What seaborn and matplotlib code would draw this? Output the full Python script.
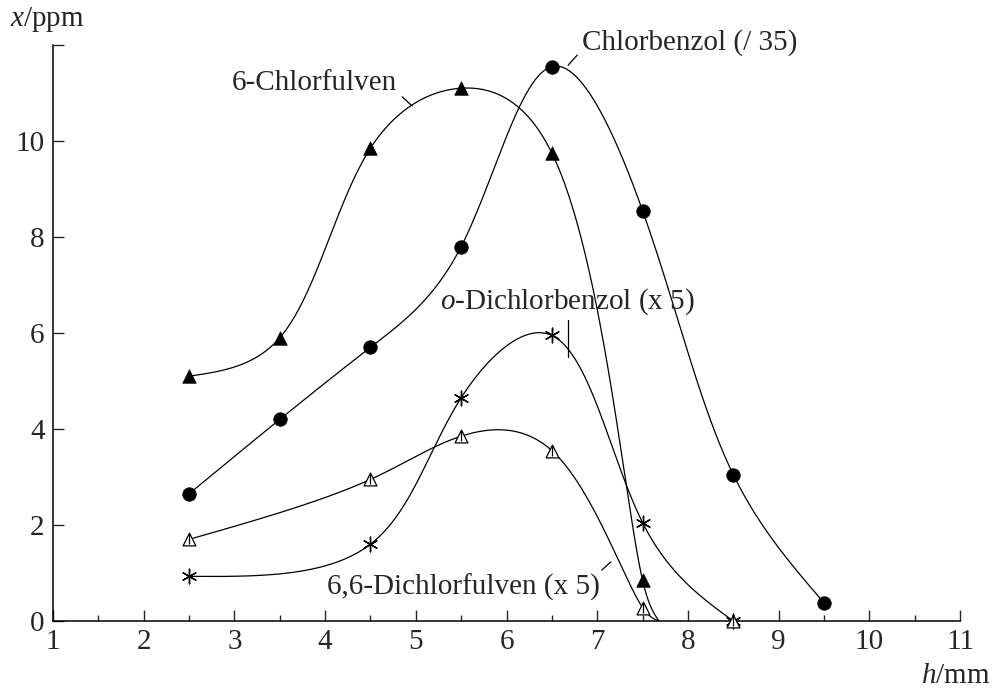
import numpy as np
import pandas as pd
import seaborn as sns
import matplotlib
matplotlib.use("Agg")
import matplotlib.pyplot as plt

# ---- data ----
h_chlorfulven = [2.5, 3.5, 4.5, 5.5, 6.5, 7.5]
x_chlorfulven = [5.1, 5.9, 9.85, 11.1, 9.75, 0.85]

h_chlorbenzol = [2.5, 3.5, 4.5, 5.5, 6.5, 7.5, 8.5, 9.5]
x_chlorbenzol = [2.65, 4.2, 5.7, 7.8, 11.55, 8.55, 3.05, 0.38]

h_odcb = [2.5, 4.5, 5.5, 6.5, 7.5, 8.5]
x_odcb = [0.93, 1.6, 4.65, 5.95, 2.05, 0.0]

h_dcf = [2.5, 4.5, 5.5, 6.5, 7.5, 8.5]
x_dcf = [1.7, 2.95, 3.85, 3.55, 0.28, 0.0]

# h at which a fitted curve reaches zero (None = curve ends at last point)
curve_zero_h = [7.68, None, None, 7.68]

series_names = ["6-Chlorfulven", "Chlorbenzol (/ 35)",
                "$o$-Dichlorbenzol (x 5)", "6,6-Dichlorfulven (x 5)"]
x_ticks = [1, 2, 3, 4, 5, 6, 7, 8, 9, 10, 11]
y_ticks = [0, 2, 4, 6, 8, 10, 12]
y_ticklabels = ["0", "2", "4", "6", "8", "10", ""]

# ---- style ----
sns.set_theme(style="ticks")
plt.rcParams["font.family"] = ["Liberation Serif", "DejaVu Serif"]
plt.rcParams["mathtext.fontset"] = "custom"
plt.rcParams["mathtext.rm"] = "Liberation Serif"
plt.rcParams["mathtext.it"] = "Liberation Serif:italic"
FS = 21

SX, SY = 90.7, 48.0  # approximate px per data unit, for geometric smoothing


def natural_coeffs(t, y):
    n = len(t)
    hk = np.diff(t)
    A = np.zeros((n, n))
    b = np.zeros(n)
    A[0, 0] = 1
    A[-1, -1] = 1
    for i in range(1, n - 1):
        A[i, i - 1] = hk[i - 1]
        A[i, i] = 2 * (hk[i - 1] + hk[i])
        A[i, i + 1] = hk[i]
        b[i] = 6 * ((y[i + 1] - y[i]) / hk[i] - (y[i] - y[i - 1]) / hk[i - 1])
    return np.linalg.solve(A, b)


def eval_spline(t, y, M, ts):
    idx = np.clip(np.searchsorted(t, ts) - 1, 0, len(t) - 2)
    t0, t1 = t[idx], t[idx + 1]
    hh = t1 - t0
    return (M[idx] * (t1 - ts) ** 3 / (6 * hh) + M[idx + 1] * (ts - t0) ** 3 / (6 * hh)
            + (y[idx] / hh - M[idx] * hh / 6) * (t1 - ts)
            + (y[idx + 1] / hh - M[idx + 1] * hh / 6) * (ts - t0))


def smooth_curve(hv, xv, alpha=0.5):
    """Parametric natural cubic spline (centripetal parametrisation)."""
    px = np.asarray(hv, float) * SX
    py = np.asarray(xv, float) * SY
    d = np.hypot(np.diff(px), np.diff(py)) ** alpha
    t = np.concatenate([[0], np.cumsum(d)])
    ts = np.linspace(0, t[-1], 1500)
    cx = eval_spline(t, px, natural_coeffs(t, px), ts)
    cy = eval_spline(t, py, natural_coeffs(t, py), ts)
    return cx / SX, cy / SY


fig = plt.figure(figsize=(9.97, 6.92), dpi=100)
ax = fig.add_axes([53 / 997, 71 / 692, 907 / 997, 576 / 692])

rows = []
for name, hv, xv, hz in zip(series_names,
                            [h_chlorfulven, h_chlorbenzol, h_odcb, h_dcf],
                            [x_chlorfulven, x_chlorbenzol, x_odcb, x_dcf],
                            curve_zero_h):
    hv = list(hv)
    xv = list(xv)
    if hz is not None:
        keep = [i for i in range(len(xv)) if hv[i] < hz]
        hv = [hv[i] for i in keep] + [hz]
        xv = [xv[i] for i in keep] + [0.0]
    xs, ys = smooth_curve(hv, xv, alpha=0.5)
    rows.append(pd.DataFrame({"h": xs, "x": ys, "s": name}))
curves = pd.concat(rows, ignore_index=True)

sns.lineplot(data=curves, x="h", y="x", units="s", estimator=None, sort=False,
             color="black", linewidth=0.9, ax=ax, legend=False)

lw_m = 0.9
sns.scatterplot(x=h_chlorfulven, y=x_chlorfulven, marker="^", s=95, color="black",
                edgecolor="black", linewidth=0.5, ax=ax, zorder=5)
sns.scatterplot(x=h_chlorbenzol, y=x_chlorbenzol, marker="o", s=95, color="black",
                edgecolor="black", linewidth=0.5, ax=ax, zorder=5)
sns.scatterplot(x=h_odcb, y=x_odcb, marker=(6, 2, 0), s=110, color="black",
                linewidth=1.0, ax=ax, zorder=5, clip_on=False)
sns.scatterplot(x=h_dcf, y=x_dcf, marker="^", s=85, facecolor="white",
                edgecolor="black", linewidth=lw_m, ax=ax, zorder=6, clip_on=False)
sns.scatterplot(x=h_dcf, y=x_dcf, marker="|", s=45, color="black",
                linewidth=lw_m, ax=ax, zorder=7, clip_on=False)

# labels with leader lines
ax.text(2.97, 11.21, series_names[0], fontsize=FS, ha="left", va="center")
ax.plot([4.85, 4.96], [10.92, 10.73], color="black", lw=0.9)
ax.text(6.83, 12.06, series_names[1], fontsize=FS, ha="left", va="center", clip_on=False)
ax.plot([6.78, 6.68], [11.79, 11.58], color="black", lw=0.9)
ax.text(5.27, 6.65, series_names[2], fontsize=FS, ha="left", va="center")
ax.plot([6.68, 6.68], [6.27, 5.5], color="black", lw=0.9)
ax.text(4.02, 0.71, series_names[3], fontsize=FS, ha="left", va="center")
ax.plot([7.05, 7.15], [1.06, 1.23], color="black", lw=0.9)

ax.set_xlim(1, 11)
ax.set_ylim(0, 12)
ax.set_xticks(x_ticks)
ax.set_xticklabels([str(t) for t in x_ticks], fontsize=FS)
ax.set_xticks(np.arange(1.5, 11, 1.0), minor=True)
ax.set_yticks(y_ticks)
ax.set_yticklabels(y_ticklabels, fontsize=FS)
ax.tick_params(axis="x", which="major", direction="in", length=8, width=1.0, pad=6)
ax.tick_params(axis="x", which="minor", direction="in", length=4, width=1.0)
ax.tick_params(axis="y", which="major", direction="in", length=8, width=1.0, pad=6)
ax.set_xlabel("")
ax.set_ylabel("")
sns.despine(ax=ax)
for sp in ["left", "bottom"]:
    ax.spines[sp].set_linewidth(1.1)
    ax.spines[sp].set_color("black")

fig.text(10 / 997, 1 - 20 / 692, "$x$/ppm", fontsize=FS, ha="left", va="center")
fig.text(990 / 997, 1 - 676 / 692, "$h$/mm", fontsize=FS, ha="right", va="center")

fig.savefig("out.png", dpi=100, facecolor="white")
